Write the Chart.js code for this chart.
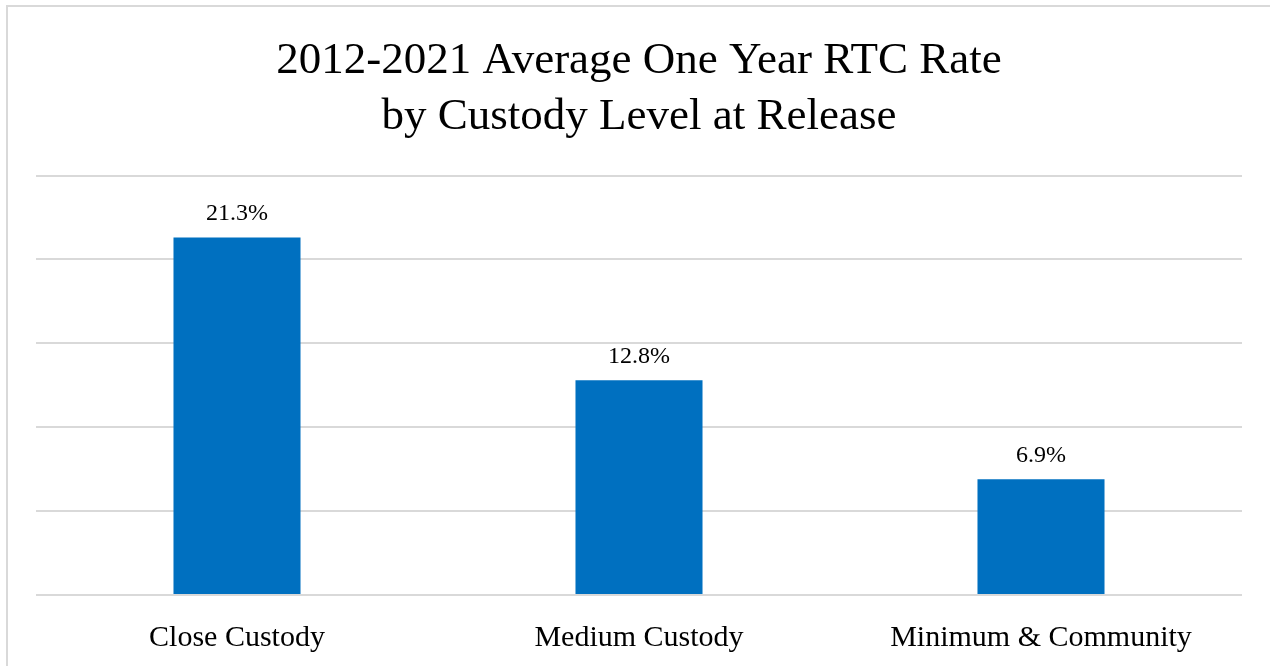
<!DOCTYPE html>
<html>
<head>
<meta charset="utf-8">
<script src="https://cdn.jsdelivr.net/npm/chart.js@4"></script>
<style>
  html, body { margin: 0; padding: 0; background: #fff; }
  #wrap { position: relative; width: 1270px; height: 666px; }
  #frame {
    position: absolute; left: 6px; top: 5px; width: 1270px; height: 700px;
    border: 2px solid #d9d9d9; box-sizing: border-box; pointer-events: none;
  }
</style>
</head>
<body>
<div id="wrap">
  <canvas id="rtc-chart" width="1270" height="666"></canvas>
  <div id="frame"></div>
</div>
<script>
const categories = ['Close Custody', 'Medium Custody', 'Minimum & Community'];
const rtcRates = [21.3, 12.8, 6.9];
const titleLines = ['2012-2021 Average One Year RTC Rate', 'by Custody Level at Release'];

const serif = '"Liberation Serif", "DejaVu Serif", serif';

// dibuja el valor encima de cada barra
const valueLabels = {
    id: 'valueLabels',
    afterDatasetsDraw(chart) {
        const ctx = chart.ctx;
        const meta = chart.getDatasetMeta(0);
        ctx.save();
        ctx.font = '24px ' + serif;
        ctx.fillStyle = '#000';
        ctx.textAlign = 'center';
        ctx.textBaseline = 'middle';
        meta.data.forEach((bar, i) => {
            ctx.fillText(rtcRates[i].toFixed(1) + '%', bar.x, bar.y - 24);
        });
        ctx.restore();
    }
};

const ctx = document.getElementById('rtc-chart').getContext('2d');

const config = {
    type: 'bar',
    data: {
        labels: categories,
        datasets: [{
            data: rtcRates,
            backgroundColor: '#0070c0',
            categoryPercentage: 1,
            barPercentage: 0.316
        }]
    },
    options: {
        responsive: false,
        animation: false,
        layout: {
            padding: { left: 36, right: 28, top: 0, bottom: 0 }
        },
        plugins: {
            legend: { display: false },
            tooltip: { enabled: false },
            title: {
                display: true,
                text: titleLines,
                color: '#000',
                font: { family: serif, size: 45, weight: 'normal', lineHeight: 1.25 },
                padding: { top: 33, bottom: 30 }
            }
        },
        scales: {
            x: {
                grid: { display: false },
                border: { display: false },
                ticks: {
                    color: '#000',
                    font: { family: serif, size: 30 },
                    padding: 17
                },
                afterFit(scale) { scale.height = 71; }
            },
            y: {
                min: 0,
                max: 25,
                ticks: { display: false, stepSize: 5 },
                grid: { color: '#d9d9d9', lineWidth: 2, drawTicks: false },
                border: { display: false },
                afterFit(scale) { scale.width = 0; }
            }
        }
    },
    plugins: [valueLabels]
};

const rtcChart = new Chart(ctx, config);
</script>
</body>
</html>
